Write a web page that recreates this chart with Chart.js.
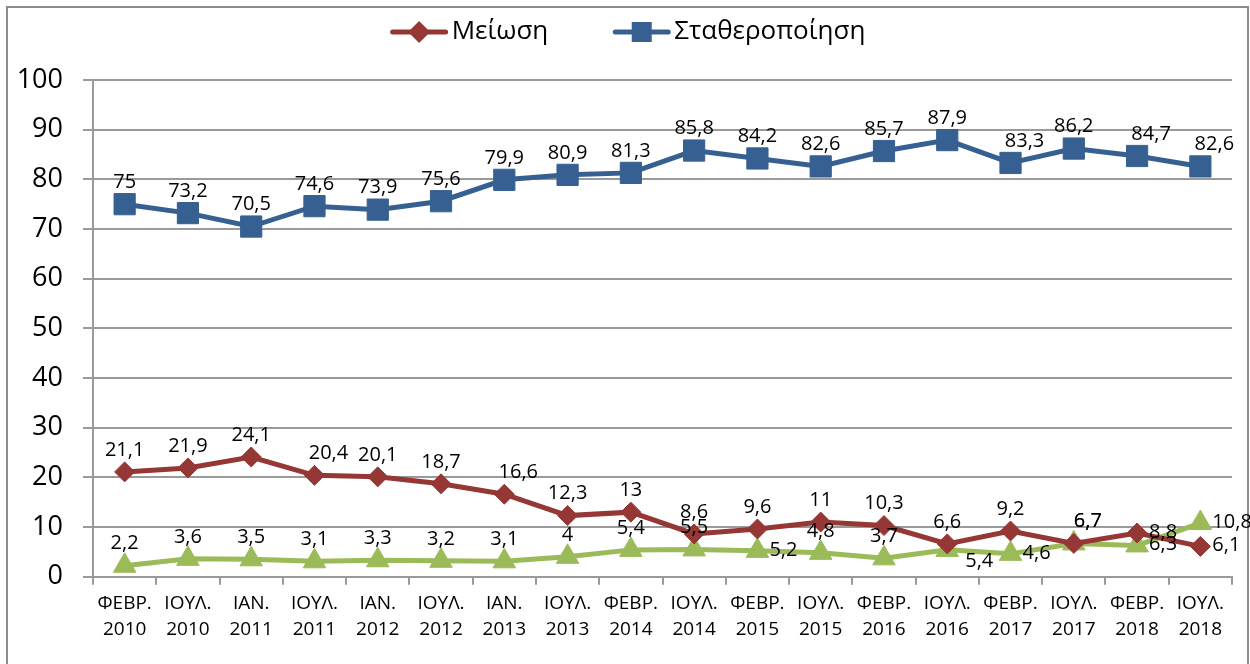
<!DOCTYPE html>
<html>
<head>
<meta charset="utf-8">
<script src="https://cdn.jsdelivr.net/npm/chart.js@4.4.0/dist/chart.umd.min.js"></script>
<style>
html, body { margin: 0; padding: 0; background: #fff; }
</style>
</head>
<body>
<canvas id="myChart" width="1250" height="664"></canvas>
<script>
// Δεδομένα
var months = ['ΦΕΒΡ.', 'ΙΟΥΛ.', 'ΙΑΝ.', 'ΙΟΥΛ.', 'ΙΑΝ.', 'ΙΟΥΛ.', 'ΙΑΝ.', 'ΙΟΥΛ.', 'ΦΕΒΡ.', 'ΙΟΥΛ.', 'ΦΕΒΡ.', 'ΙΟΥΛ.', 'ΦΕΒΡ.', 'ΙΟΥΛ.', 'ΦΕΒΡ.', 'ΙΟΥΛ.', 'ΦΕΒΡ.', 'ΙΟΥΛ.'];
var years = ['2010', '2010', '2011', '2011', '2012', '2012', '2013', '2013', '2014', '2014', '2015', '2015', '2016', '2016', '2017', '2017', '2018', '2018'];
var meiosi = [21.1, 21.9, 24.1, 20.4, 20.1, 18.7, 16.6, 12.3, 13, 8.6, 9.6, 11, 10.3, 6.6, 9.2, 6.7, 8.8, 6.1];
var statheropoiisi = [75, 73.2, 70.5, 74.6, 73.9, 75.6, 79.9, 80.9, 81.3, 85.8, 84.2, 82.6, 85.7, 87.9, 83.3, 86.2, 84.7, 82.6];
var auxisi = [2.2, 3.6, 3.5, 3.1, 3.3, 3.2, 3.1, 4, 5.4, 5.5, 5.2, 4.8, 3.7, 5.4, 4.6, 6.7, 6.3, 10.8];
var yMin = 0, yMax = 100, yStep = 10;

// Θέση ετικετών τιμών: t = πάνω, tr = πάνω δεξιά, r = δεξιά, br = κάτω δεξιά
var meiosiPos = ['t', 't', 't', 'tr', 't', 't', 'tr', 't', 't', 't', 't', 't', 't', 't', 't', 'tr', 'r', 'r'];
var statheroPos = ['t', 't', 't', 't', 't', 't', 't', 't', 't', 't', 't', 't', 't', 't', 'tr', 't', 'tr', 'tr'];
var auxisiPos = ['t', 't', 't', 't', 't', 't', 't', 't', 't', 't', 'r', 't', 't', 'br', 'r', 'tr', 'r', 'r'];

var labels = months.map(function (m, i) { return [m, years[i]]; });

var RED = '#953735';
var BLUE = '#376092';
var GREEN = '#9bbb59';
var GRID = '#9a9a9a';
var FONT = '"Open Sans", sans-serif';

var framePlugin = {
    id: 'frame',
    beforeDraw: function (chart) {
        var ctx = chart.ctx;
        ctx.save();
        ctx.strokeStyle = '#8c8c8c';
        ctx.lineWidth = 2;
        ctx.beginPath();
        ctx.moveTo(7, 700); ctx.lineTo(7, 7); ctx.lineTo(1248, 7); ctx.lineTo(1248, 700);
        ctx.stroke();
        ctx.restore();
    }
};

// Υπόμνημα: γραμμή με δείκτη και κείμενο (μόνο οι δύο πρώτες σειρές)
var lineLegend = {
    id: 'lineLegend',
    afterDraw: function (chart) {
        var ctx = chart.ctx;
        var shapes = ['diamond', 'square'];
        var iconW = 57, gapText = 4, gapItem = 65, cy = 32;
        ctx.save();
        ctx.font = '26px ' + FONT;
        var items = [0, 1].map(function (di) {
            var ds = chart.data.datasets[di];
            return { text: ds.label, color: ds.borderColor, shape: shapes[di], w: ctx.measureText(ds.label).width };
        });
        var total = items.reduce(function (s, it) { return s + iconW + gapText + it.w; }, 0) + gapItem;
        var x = 628 - total / 2;
        items.forEach(function (it) {
            ctx.strokeStyle = it.color;
            ctx.fillStyle = it.color;
            ctx.lineWidth = 5;
            ctx.lineCap = 'round';
            ctx.beginPath(); ctx.moveTo(x + 2, cy); ctx.lineTo(x + iconW - 2, cy); ctx.stroke();
            var mx = x + iconW / 2;
            ctx.beginPath();
            if (it.shape === 'diamond') {
                ctx.moveTo(mx, cy - 11); ctx.lineTo(mx + 11, cy); ctx.lineTo(mx, cy + 11); ctx.lineTo(mx - 11, cy);
            } else {
                ctx.rect(mx - 10, cy - 10, 20, 20);
            }
            ctx.fill();
            ctx.fillStyle = '#000';
            ctx.textAlign = 'left';
            ctx.textBaseline = 'middle';
            ctx.fillText(it.text, x + iconW + gapText, cy);
            x += iconW + gapText + it.w + gapItem;
        });
        ctx.restore();
    }
};

var valueLabels = {
    id: 'valueLabels',
    afterDatasetsDraw: function (chart) {
        var ctx = chart.ctx;
        ctx.save();
        ctx.font = '20px ' + FONT;
        ctx.fillStyle = '#000';
        chart.data.datasets.forEach(function (ds, di) {
            var meta = chart.getDatasetMeta(di);
            meta.data.forEach(function (pt, i) {
                var txt = String(ds.data[i]).replace('.', ',');
                var pos = ds.labelPos[i];
                var x = pt.x, y = pt.y;
                ctx.textBaseline = 'middle';
                if (pos === 't') {
                    ctx.textAlign = 'center';
                    ctx.fillText(txt, x, y - 22);
                } else if (pos === 'tr') {
                    ctx.textAlign = 'center';
                    ctx.fillText(txt, x + 14, y - 22);
                } else if (pos === 'r') {
                    ctx.textAlign = 'left';
                    ctx.fillText(txt, x + 12, y - 1);
                } else {
                    ctx.textAlign = 'center';
                    ctx.fillText(txt, x + 32, y + 11);
                }
            });
        });
        ctx.restore();
    }
};

var ctx1 = document.getElementById('myChart').getContext('2d');
var myChart = new Chart(ctx1, {
    type: 'line',
    data: {
        labels: labels,
        datasets: [{
            label: 'Μείωση',
            data: meiosi,
            labelPos: meiosiPos,
            borderColor: RED,
            backgroundColor: RED,
            borderWidth: 5,
            pointStyle: 'rectRot',
            pointRadius: 10,
            pointBorderWidth: 1,
            tension: 0
        }, {
            label: 'Σταθεροποίηση',
            data: statheropoiisi,
            labelPos: statheroPos,
            borderColor: BLUE,
            backgroundColor: BLUE,
            borderWidth: 5,
            pointStyle: 'rect',
            pointRadius: 15,
            pointBorderWidth: 1,
            tension: 0
        }, {
            label: 'Αύξηση',
            data: auxisi,
            labelPos: auxisiPos,
            borderColor: GREEN,
            backgroundColor: GREEN,
            borderWidth: 5,
            pointStyle: 'triangle',
            pointRadius: 13,
            pointBorderWidth: 1,
            tension: 0
        }]
    },
    options: {
        responsive: false,
        animation: false,
        devicePixelRatio: 1,
        layout: {
            padding: { top: 80, left: 0, right: 18, bottom: 16 }
        },
        plugins: {
            legend: { display: false },
            tooltip: { enabled: false }
        },
        scales: {
            x: {
                offset: true,
                grid: {
                    offset: true,
                    drawOnChartArea: false,
                    drawTicks: true,
                    tickLength: 8,
                    color: GRID,
                    lineWidth: 2
                },
                border: { color: GRID, width: 2 },
                ticks: {
                    autoSkip: false,
                    maxRotation: 0,
                    padding: 6,
                    color: '#000',
                    font: { family: FONT, size: 19, lineHeight: 1.35 }
                }
            },
            y: {
                min: yMin,
                max: yMax,
                afterFit: function (scale) { scale.width = 93; },
                grid: {
                    color: GRID,
                    lineWidth: 2,
                    tickLength: 10
                },
                border: { color: GRID, width: 2 },
                ticks: {
                    stepSize: yStep,
                    padding: 20,
                    color: '#000',
                    font: { family: FONT, size: 27 }
                }
            }
        }
    },
    plugins: [framePlugin, lineLegend, valueLabels]
});
</script>
</body>
</html>
